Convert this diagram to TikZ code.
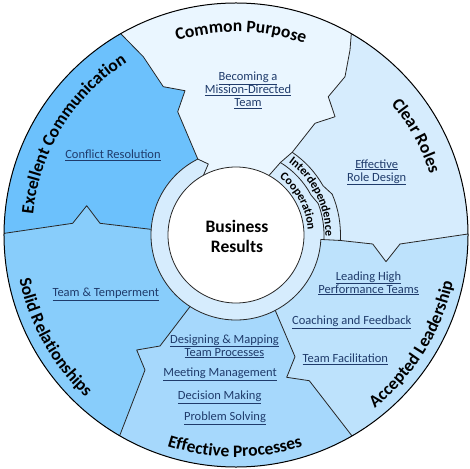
\documentclass[tikz,border=0pt]{standalone}
\usepackage{fontspec}
\setmainfont{Carlito}
\usetikzlibrary{decorations.text}
\definecolor{cpC}{HTML}{EAF6FF}
\definecolor{ecC}{HTML}{6CC1FC}
\definecolor{srC}{HTML}{88CDFB}
\definecolor{epC}{HTML}{A6D8FC}
\definecolor{alC}{HTML}{BDE2FC}
\definecolor{crC}{HTML}{D6ECFD}
\definecolor{ringC}{HTML}{D6ECFD}
\definecolor{linkC}{HTML}{1F3B6B}
\newcommand{\ttlfont}{\fontsize{17.5}{20}\selectfont\bfseries}
\newcommand{\lnkfont}{\fontsize{12.5}{13}\selectfont}
\newcommand{\smfont}{\fontsize{12}{14}\selectfont\bfseries}
\newcommand{\lk}[1]{\underline{#1}}
\tikzset{
  bnd/.style={draw=black!85, line width=0.8pt, line join=round},
  lnk/.style={text=linkC, font=\lnkfont, align=center, inner sep=0pt},
  ttl/.style={decorate, decoration={text along path, text align=center, text={|\ttlfont|#1}}},
  smt/.style={decorate, decoration={text along path, text align=center, text={|\smfont|#1}}}
}
\begin{document}
\begin{tikzpicture}[x=1pt,y=1pt]
\useasboundingbox (-236,-233) rectangle (234,235);
% boundary points
\coordinate (f0) at (61:68);
\coordinate (f1) at (58.5:85);
\coordinate (f2) at (55.8:100);
\coordinate (f3) at (79,111.7);
\coordinate (f4) at (99,118.3);
\coordinate (f5) at (92.3,138.3);
\coordinate (f6) at (109,158.3);
\coordinate (f7) at (114,185);
\coordinate (f8) at (60.2:232);
\coordinate (f9) at (60.2:300);
\coordinate (a0) at (118.6:68);
\coordinate (a1) at (-27.7,71);
\coordinate (a2) at (116.7:85);
\coordinate (a3) at (-58.3,123.3);
\coordinate (a4) at (-51,144.3);
\coordinate (a5) at (-72.7,148.3);
\coordinate (a6) at (-92.7,178.3);
\coordinate (a7) at (119.8:232);
\coordinate (a8) at (119.8:300);
\coordinate (b0) at (176.2:85);
\coordinate (b1) at (-136,11.7);
\coordinate (b2) at (-149.3,29.3);
\coordinate (b3) at (-163.3,11.7);
\coordinate (b4) at (179.6:232);
\coordinate (b5) at (179.6:300);
\coordinate (c0) at (237.3:85);
\coordinate (c1) at (-76,-111);
\coordinate (c2) at (-99.3,-115);
\coordinate (c3) at (-91,-135);
\coordinate (c4) at (239.9:232);
\coordinate (c5) at (239.9:300);
\coordinate (d0) at (297.5:85);
\coordinate (d1) at (59,-121.7);
\coordinate (d2) at (50.7,-142.3);
\coordinate (d3) at (73.3,-145.7);
\coordinate (d4) at (300:232);
\coordinate (d5) at (300:300);
\coordinate (e0) at (357:88);
\coordinate (e1) at (357:104.5);
\coordinate (e2) at (136.7,-9);
\coordinate (e3) at (150,-26.7);
\coordinate (e4) at (164,-9);
\coordinate (e5) at (0.25:232);
\coordinate (e6) at (0.25:300);
% sectors
\begin{scope}
\clip (0,0) circle (232);
\fill[cpC] (0,0) -- (f0) -- (f1) -- (f2) -- (f3) -- (f4) -- (f5) -- (f6) -- (f7) -- (f8) -- (f9) -- (90:300) -- (a8) -- (a7) -- (a6) -- (a5) -- (a4) -- (a3) -- (a2) -- (a1) -- (a0) -- cycle;
\fill[ecC] (0,0) -- (a0) -- (a1) -- (a2) -- (a3) -- (a4) -- (a5) -- (a6) -- (a7) -- (a8) -- (150:300) -- (b5) -- (b4) -- (b3) -- (b2) -- (b1) -- (b0) -- cycle;
\fill[srC] (0,0) -- (b0) -- (b1) -- (b2) -- (b3) -- (b4) -- (b5) -- (210:300) -- (c5) -- (c4) -- (c3) -- (c2) -- (c1) -- (c0) -- cycle;
\fill[epC] (0,0) -- (c0) -- (c1) -- (c2) -- (c3) -- (c4) -- (c5) -- (270:300) -- (d5) -- (d4) -- (d3) -- (d2) -- (d1) -- (d0) -- cycle;
\fill[alC] (0,0) -- (d0) -- (d1) -- (d2) -- (d3) -- (d4) -- (d5) -- (330:300) -- (e6) -- (e5) -- (e4) -- (e3) -- (e2) -- (e1) -- (e0) -- cycle;
\fill[crC] (0,0) -- (e0) -- (e1) -- (e2) -- (e3) -- (e4) -- (e5) -- (e6) -- (30:300) -- (f9) -- (f8) -- (f7) -- (f6) -- (f5) -- (f4) -- (f3) -- (f2) -- (f1) -- (f0) -- cycle;
\end{scope}
% ring with cooperation part
\filldraw[fill=ringC, bnd] (a0) -- (a1) -- (a2) arc[start angle=116.7, end angle=357, radius=85] -- (e0) arc[start angle=-3, end angle=21, radius=88] -- (28:85) arc[start angle=28, end angle=58.5, radius=85] -- (f0);
\filldraw[fill=white, bnd] (0,0) circle (68);
% boundaries
\draw[bnd] (f1) -- (f2) -- (f3) -- (f4) -- (f5) -- (f6) -- (f7) -- (f8);
\draw[bnd] (a2) -- (a3) -- (a4) -- (a5) -- (a6) -- (a7);
\draw[bnd] (b0) -- (b1) -- (b2) -- (b3) -- (b4);
\draw[bnd] (c0) -- (c1) -- (c2) -- (c3) -- (c4);
\draw[bnd] (d0) -- (d1) -- (d2) -- (d3) -- (d4);
\draw[bnd] (e0) -- (e1) -- (e2) -- (e3) -- (e4) -- (e5);
\draw[bnd] (f2) arc[start angle=55.8, end angle=29.5, radius=100] -- (23:104.5) arc[start angle=23, end angle=-3, radius=104.5];
\draw[black, line width=1pt] (0,0) circle (232);
% titles
\path[ttl=Common Purpose] (148.6:203) arc[start angle=148.6, end angle=28.6, radius=203];
\path[ttl=Clear Roles] (88.8:203) arc[start angle=88.8, end angle=-31.2, radius=203];
\path[ttl=Excellent Communication] (208.2:204) arc[start angle=208.2, end angle=88.2, radius=204];
\path[ttl=Solid Relationships] (149.3:221) arc[start angle=149.3, end angle=269.3, radius=221];
\path[ttl=Effective Processes] (209.7:222) arc[start angle=209.7, end angle=329.7, radius=222];
\path[ttl=Accepted Leadership] (268.2:222) arc[start angle=268.2, end angle=388.2, radius=222];
\path[smt=Cooperation] (68.3:72) arc[start angle=68.3, end angle=-11.7, radius=72];
\path[smt=Interdependence] (66.6:89.5) arc[start angle=66.6, end angle=-13.4, radius=89.5];
% center
\node[font=\ttlfont, align=center, inner sep=0pt] (br) at (1,-1.5) {Business\\Results};
% links
\node[lnk] (mission) at (12,145) {\lk{Becoming a}\\\lk{Mission-Directed}\\\lk{Team}};
\node[lnk] (conflict) at (-123,80) {\lk{Conflict Resolution}};
\node[lnk] (role) at (140.7,62.7) {\lk{Effective}\\\lk{Role Design}};
\node[lnk] (temper) at (-130.2,-59.7) {\lk{Team \& Temperment}};
\node[lnk] (designing) at (-11.5,-111.3) {\lk{Designing \& Mapping}\\\lk{Team Processes}};
\node[lnk] (meeting) at (-16,-139.7) {\lk{Meeting Management}};
\node[lnk] (decision) at (-16.3,-162) {\lk{Decision Making}};
\node[lnk] (problem) at (-11,-183.7) {\lk{Problem Solving}};
\node[lnk] (leading) at (132.5,-48.3) {\lk{Leading High}\\\lk{Performance Teams}};
\node[lnk] (coaching) at (115.8,-87.3) {\lk{Coaching and Feedback}};
\node[lnk] (facil) at (109.3,-124.7) {\lk{Team Facilitation}};
\end{tikzpicture}
\end{document}
